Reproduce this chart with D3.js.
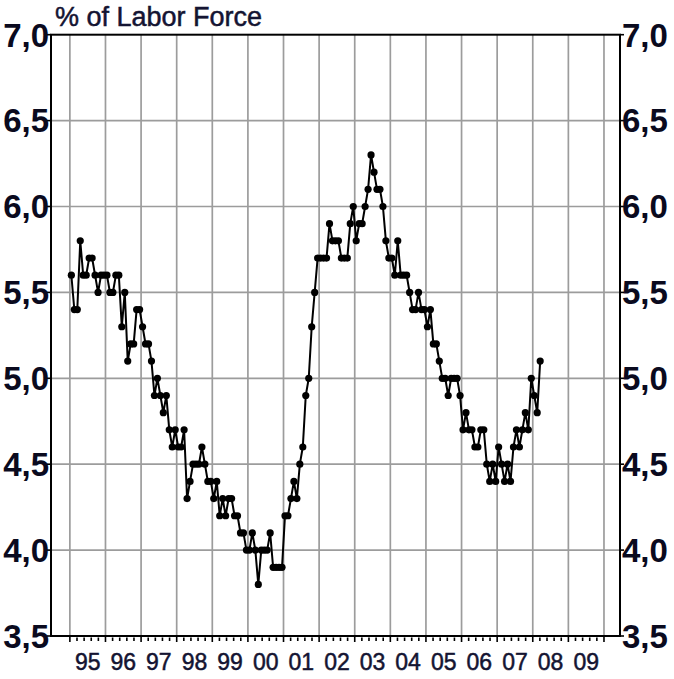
<!DOCTYPE html>
<html>
<head>
<meta charset="utf-8">
<script src="https://cdn.jsdelivr.net/npm/d3@7"></script>
<style>
  body { margin: 0; background: #fff; }
  text { font-family: "Liberation Sans", Arial, sans-serif; }
</style>
</head>
<body>
<div id="chart"></div>
<script>
// monthly unemployment rate, % of labor force (Jan..Dec)
const rate1995 = [5.6, 5.4, 5.4, 5.8, 5.6, 5.6, 5.7, 5.7, 5.6, 5.5, 5.6, 5.6];
const rate1996 = [5.6, 5.5, 5.5, 5.6, 5.6, 5.3, 5.5, 5.1, 5.2, 5.2, 5.4, 5.4];
const rate1997 = [5.3, 5.2, 5.2, 5.1, 4.9, 5.0, 4.9, 4.8, 4.9, 4.7, 4.6, 4.7];
const rate1998 = [4.6, 4.6, 4.7, 4.3, 4.4, 4.5, 4.5, 4.5, 4.6, 4.5, 4.4, 4.4];
const rate1999 = [4.3, 4.4, 4.2, 4.3, 4.2, 4.3, 4.3, 4.2, 4.2, 4.1, 4.1, 4.0];
const rate2000 = [4.0, 4.1, 4.0, 3.8, 4.0, 4.0, 4.0, 4.1, 3.9, 3.9, 3.9, 3.9];
const rate2001 = [4.2, 4.2, 4.3, 4.4, 4.3, 4.5, 4.6, 4.9, 5.0, 5.3, 5.5, 5.7];
const rate2002 = [5.7, 5.7, 5.7, 5.9, 5.8, 5.8, 5.8, 5.7, 5.7, 5.7, 5.9, 6.0];
const rate2003 = [5.8, 5.9, 5.9, 6.0, 6.1, 6.3, 6.2, 6.1, 6.1, 6.0, 5.8, 5.7];
const rate2004 = [5.7, 5.6, 5.8, 5.6, 5.6, 5.6, 5.5, 5.4, 5.4, 5.5, 5.4, 5.4];
const rate2005 = [5.3, 5.4, 5.2, 5.2, 5.1, 5.0, 5.0, 4.9, 5.0, 5.0, 5.0, 4.9];
const rate2006 = [4.7, 4.8, 4.7, 4.7, 4.6, 4.6, 4.7, 4.7, 4.5, 4.4, 4.5, 4.4];
const rate2007 = [4.6, 4.5, 4.4, 4.5, 4.4, 4.6, 4.7, 4.6, 4.7, 4.8, 4.7, 5.0];
const rate2008 = [4.9, 4.8, 5.1];

const years = [1995, 1996, 1997, 1998, 1999, 2000, 2001, 2002, 2003, 2004, 2005, 2006, 2007, 2008];
const yearRates = [rate1995, rate1996, rate1997, rate1998, rate1999, rate2000, rate2001,
  rate2002, rate2003, rate2004, rate2005, rate2006, rate2007, rate2008];

const yearLabels = ["95", "96", "97", "98", "99", "00", "01", "02", "03", "04", "05", "06", "07", "08", "09"];
const yTicks = [3.5, 4.0, 4.5, 5.0, 5.5, 6.0, 6.5, 7.0];

const W = 674, H = 679;
const plot = {left: 51, right: 620, top: 34.7, bottom: 636};

const svg = d3.select("#chart")
    .append("svg")
    .attr("width", W)
    .attr("height", H);

const x = d3.scaleLinear()
    .domain([1994.47, 2010.45])
    .range([plot.left, plot.right]);

const y = d3.scaleLinear()
    .domain([3.5, 7.0])
    .range([plot.bottom, plot.top]);

// flatten to month points, plotted mid-month
const data = [];
years.forEach((yr, i) => {
  yearRates[i].forEach((v, m) => data.push({t: yr + (m + 0.5) / 12, v: v}));
});

const gridYears = d3.range(1995, 2011);

// vertical grid
svg.append("g")
    .selectAll("line")
    .data(gridYears)
    .join("line")
    .attr("x1", d => x(d)).attr("x2", d => x(d))
    .attr("y1", plot.top).attr("y2", plot.bottom)
    .attr("stroke", "#9c9c9c")
    .attr("stroke-width", 1.7);

// horizontal grid
svg.append("g")
    .selectAll("line")
    .data(yTicks.slice(1, -1))
    .join("line")
    .attr("x1", plot.left).attr("x2", plot.right)
    .attr("y1", d => y(d)).attr("y2", d => y(d))
    .attr("stroke", "#9c9c9c")
    .attr("stroke-width", 1.7);

// bottom axis: year ticks plus 4 minor ticks per year
const minor = [];
gridYears.slice(0, -1).forEach(yr => { for (let k = 1; k < 5; k++) minor.push(yr + k / 5); });

const xAxis = svg.append("g").attr("transform", `translate(0,${plot.bottom})`);
xAxis.selectAll("line.minor")
    .data(minor)
    .join("line")
    .attr("class", "minor")
    .attr("x1", d => x(d)).attr("x2", d => x(d))
    .attr("y1", 1.5).attr("y2", 5)
    .attr("stroke", "#000")
    .attr("stroke-width", 1.6);
xAxis.selectAll("line.major")
    .data(gridYears)
    .join("line")
    .attr("class", "major")
    .attr("x1", d => x(d)).attr("x2", d => x(d))
    .attr("y1", 0).attr("y2", 6)
    .attr("stroke", "#000")
    .attr("stroke-width", 1.6);
xAxis.selectAll("text")
    .data(yearLabels)
    .join("text")
    .attr("x", (d, i) => x(1995.5 + i))
    .attr("y", 34)
    .attr("text-anchor", "middle")
    .attr("font-size", 23)
    .attr("fill", "#141432")
    .attr("stroke", "#141432")
    .attr("stroke-width", 0.5)
    .text(d => d);

// y ticks + labels both sides
const fmt = d => d.toFixed(1).replace(".", ",");
[["left", plot.left, -1, "end"], ["right", plot.right, 1, "start"]].forEach(([side, xp, dir, anchor]) => {
  const g = svg.append("g").attr("class", "y-" + side);
  g.selectAll("line")
      .data(yTicks)
      .join("line")
      .attr("x1", xp).attr("x2", xp + dir * 4)
      .attr("y1", d => y(d)).attr("y2", d => y(d))
      .attr("stroke", "#000")
      .attr("stroke-width", 1.6);
  g.selectAll("text")
      .data(yTicks)
      .join("text")
      .attr("x", xp + dir * 2)
      .attr("y", d => y(d))
      .attr("dy", "0.36em")
      .attr("text-anchor", anchor)
      .attr("font-size", 33)
      .attr("font-weight", "bold")
      .attr("fill", "#0a0a1e")
      .text(fmt);
});

// frame
svg.append("rect")
    .attr("x", plot.left).attr("y", plot.top)
    .attr("width", plot.right - plot.left).attr("height", plot.bottom - plot.top)
    .attr("fill", "none")
    .attr("stroke", "#000")
    .attr("stroke-width", 2);

// series
const line = d3.line().x(d => x(d.t)).y(d => y(d.v));
svg.append("path")
    .datum(data)
    .attr("d", line)
    .attr("fill", "none")
    .attr("stroke", "#000")
    .attr("stroke-width", 2);
svg.append("g")
    .selectAll("circle")
    .data(data)
    .join("circle")
    .attr("cx", d => x(d.t))
    .attr("cy", d => y(d.v))
    .attr("r", 3.6)
    .attr("fill", "#000");

// title
svg.append("text")
    .attr("x", 55)
    .attr("y", 26)
    .attr("font-size", 27)
    .attr("fill", "#141432")
    .attr("stroke", "#141432")
    .attr("stroke-width", 0.5)
    .text("% of Labor Force");
</script>
</body>
</html>
